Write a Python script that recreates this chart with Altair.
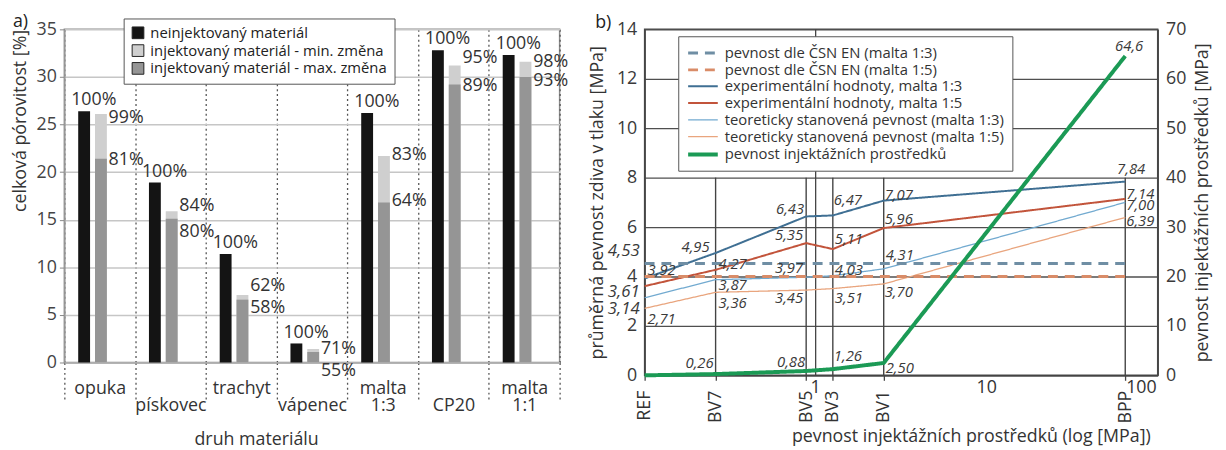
import altair as alt
import pandas as pd

FONT = "Open Sans"

# ---------------- panel a) data ----------------
categories = ["opuka", "pískovec", "trachyt", "vápenec", "malta 1:3", "CP20", "malta 1:1"]
legend_a = ["neinjektovaný materiál",
            "injektovaný materiál - min. změna",
            "injektovaný materiál - max. změna"]
porosity_noninj = [26.4, 18.9, 11.4, 2.0, 26.2, 32.8, 32.3]
porosity_inj_min = [26.1, 15.9, 7.1, 1.42, 21.7, 31.2, 31.6]
porosity_inj_max = [21.4, 15.1, 6.6, 1.1, 16.8, 29.2, 30.0]
label_noninj = ["100%"] * 7
label_inj_min = ["99%", "84%", "62%", "71%", "83%", "95%", "98%"]
label_inj_max = ["81%", "80%", "58%", "55%", "64%", "89%", "93%"]
y_ticks_a = [0, 5, 10, 15, 20, 25, 30, 35]

# ---------------- panel b) data ----------------
materials = ["REF", "BV7", "BV5", "BV3", "BV1", "BPP"]
material_strength_axis = [0.1, 0.26, 0.88, 1.26, 2.5, 64.6]
grout_strength = [0.0, 0.26, 0.88, 1.26, 2.50, 64.6]
exp_13 = [3.92, 4.95, 6.43, 6.47, 7.07, 7.84]
exp_15 = [3.61, 4.27, 5.35, 5.11, 5.96, 7.14]
theo_13 = [3.14, 3.87, 3.97, 4.03, 4.31, 7.00]
theo_15 = [2.71, 3.36, 3.45, 3.51, 3.70, 6.39]
csn_span = [0.1, 64.6]
csn_13 = [4.53, 4.53]
csn_15 = [4.00, 4.00]
series_b = ["pevnost dle ČSN EN (malta 1:3)",
            "pevnost dle ČSN EN (malta 1:5)",
            "experimentální hodnoty, malta 1:3",
            "experimentální hodnoty, malta 1:5",
            "teoreticky stanovená pevnost (malta 1:3)",
            "teoreticky stanovená pevnost (malta 1:5)",
            "pevnost injektážních prostředků"]
decade_ticks = [1, 10, 100]
decade_labels = ["1", "10", "100"]
y_ticks_left = [0, 2, 4, 6, 8, 10, 12, 14]
y_ticks_right = [0, 10, 20, 30, 40, 50, 60, 70]

colors_b = ["#6f8ea4", "#d98c68", "#3f6f93", "#c2543b", "#72aad0", "#e9a57e", "#1b9a55"]
dashes_b = [[10, 7], [10, 7], [1, 0], [1, 0], [1, 0], [1, 0], [1, 0]]
widths_b = [3, 3, 2, 2, 1.3, 1.3, 4]


def cz(v, nd=2):
    return f"{v:.{nd}f}".replace(".", ",")


# ======================= PANEL A =======================
W_A, H_A = 501, 337
xa_scale = alt.Scale(domain=categories, paddingInner=0, paddingOuter=0)
ya_scale = alt.Scale(domain=[0, 35], nice=False)

bars_df = pd.DataFrame({
    "cat": categories * 3,
    "grp": ["n"] * 7 + ["i"] * 14,
    "series": [legend_a[0]] * 7 + [legend_a[1]] * 7 + [legend_a[2]] * 7,
    "val": porosity_noninj + porosity_inj_min + porosity_inj_max,
})

label_expr_a = ("datum.value == null ? '' : (indexof(['pískovec','vápenec','CP20'], datum.value) >= 0 ? "
                "['', datum.value] : split(datum.value, ' '))")

x_axis_a = alt.Axis(
    title="druh materiálu", labelAngle=0, labelExpr=label_expr_a,
    labelBaseline="top", labelLineHeight=18, labelFontSize=18, labelPadding=-23,
    labelColor="#333", labelOverlap=False, labelAlign="center",
    tickBand="extent", tickSize=40, tickDash=[2, 3], tickColor="#555", tickWidth=1.3,
    grid=True, gridDash=[2, 3], gridColor="#555", gridWidth=1.3,
    domainColor="#aaa", domainWidth=1.5,
    titleX=194, titleY=78, titleAlign="center", titleBaseline="middle",
    titleFontSize=18, titleFontWeight="normal", titleColor="#333")

y_axis_a = alt.Axis(
    values=y_ticks_a, grid=True, gridColor="#c6c6c6", gridWidth=1.5,
    domainColor="#999", domainWidth=1.5, tickColor="#888", tickSize=5,
    labelPadding=3, labelFontSize=18, labelColor="#444",
    title="celková pórovitost [%]", titleFontSize=18, titleFontWeight="normal",
    titleColor="#333", titleAnchor="end", titlePadding=7)

bars = alt.Chart(bars_df).mark_bar().encode(
    x=alt.X("cat:N", sort=categories, scale=xa_scale, axis=x_axis_a),
    xOffset=alt.XOffset("grp:N", scale=alt.Scale(domain=["n", "i", "pad"], paddingInner=0.294,
                                                  paddingOuter=0.752, align=0.548)),
    y=alt.Y("val:Q", scale=ya_scale, axis=y_axis_a, stack=None),
    color=alt.Color("series:N", scale=alt.Scale(domain=legend_a,
                                                range=["#141414", "#cfcfcf", "#959595"]),
                    legend=alt.Legend(title=None, orient="none", legendX=60, legendY=-11,
                                      direction="vertical", symbolType="square",
                                      symbolSize=140, symbolStrokeColor="#222",
                                      symbolStrokeWidth=1, labelFontSize=15,
                                      labelColor="#222", fillColor="white",
                                      strokeColor="#555", padding=7, rowPadding=1,
                                      labelOffset=5, labelLimit=400)),
)

# label nudges (pixels) so that the percent labels do not collide
dy_min = [4, -5, -9, 0, -1, -8, 0]
dy_max = [1, 13, 8, 19, -2, 2, 4]


def text_a(cat, v, txt, **kw):
    return alt.Chart(pd.DataFrame({"cat": [cat], "v": [v], "t": [txt]})).mark_text(
        font=FONT, fontSize=18, color="#333", **kw).encode(
        x=alt.X("cat:N", sort=categories, scale=xa_scale, axis=x_axis_a),
        y=alt.Y("v:Q", scale=ya_scale, axis=y_axis_a),
        text="t:N")


labels_a = []
for i, c in enumerate(categories):
    labels_a.append(text_a(c, porosity_noninj[i], label_noninj[i], dx=-6, dy=-2,
                           baseline="bottom", align="center"))
    labels_a.append(text_a(c, porosity_inj_min[i], label_inj_min[i], dx=9, dy=dy_min[i],
                           baseline="middle", align="left"))
    labels_a.append(text_a(c, porosity_inj_max[i], label_inj_max[i], dx=9, dy=dy_max[i],
                           baseline="middle", align="left"))

tag_a = alt.Chart(pd.DataFrame({"t": ["a)"]})).mark_text(
    font=FONT, fontSize=18, align="left", baseline="middle", color="#222").encode(
    x=alt.value(-52), y=alt.value(-7), text="t:N")

panel_a = alt.layer(bars, *labels_a, tag_a).properties(
    width=W_A, height=H_A, view=alt.ViewBackground(stroke="#8a8a8a", strokeWidth=1.5))

# ======================= PANEL B =======================
W_B, H_B = 519, 350
XS = alt.Scale(type="log", domain=[0.1, 100], nice=False)
YL = alt.Scale(domain=[0, 14], nice=False)
YR = alt.Scale(domain=[0, 70], nice=False)

label_expr_b = ("[" + ",".join(f"'{m}'" for m in materials) + "][indexof(["
                + ",".join(str(v) for v in material_strength_axis) + "], datum.value)]")

x_axis_b = alt.Axis(
    values=material_strength_axis, labelExpr=label_expr_b, labelAngle=270,
    labelAlign="right", labelBaseline="middle", labelPadding=10, labelFontSize=18,
    labelColor="#333", labelFlush=False, labelOverlap=False,
    tickSize=5, tickColor="#444", tickWidth=1.3, domainColor="#444", domainWidth=1.5,
    grid=False, title="pevnost injektážních prostředků (log [MPa])",
    titleX=330, titleY=62, titleAlign="center", titleBaseline="middle",
    titleFontSize=18, titleFontWeight="normal", titleColor="#333")

y_axis_left = alt.Axis(
    values=y_ticks_left, grid=True, gridColor="#4f4f4f", gridWidth=1.3,
    domainColor="#444", domainWidth=1.5, ticks=False, labelPadding=8,
    labelFontSize=18, labelColor="#3a3a3a",
    title="průměrná pevnost zdiva v tlaku [MPa]", titleFontSize=18,
    titleFontWeight="normal", titleColor="#333", titlePadding=10)

y_axis_right = alt.Axis(
    values=y_ticks_right, orient="right", grid=False, ticks=False, labelPadding=8,
    labelFontSize=18, labelColor="#3a3a3a", domainColor="#444", domainWidth=1.5,
    title="pevnost injektážních prostředků [MPa]", titleFontSize=18,
    titleFontWeight="normal", titleColor="#333", titleAngle=270, titleBaseline="top",
    titlePadding=8)

leg_b = alt.Legend(title=None, orient="none", legendX=34, legendY=7, direction="vertical",
                   symbolType="M-1,0H3", symbolSize=225, labelFontSize=15, labelColor="#333",
                   fillColor="white", strokeColor="#555", padding=8, rowPadding=0,
                   labelOffset=20, labelLimit=500)
color_b = alt.Color("series:N", scale=alt.Scale(domain=series_b, range=colors_b), legend=leg_b)
dash_b = alt.StrokeDash("series:N", scale=alt.Scale(type="ordinal", domain=series_b, range=dashes_b), legend=leg_b)
width_b = alt.StrokeWidth("series:N", scale=alt.Scale(type="ordinal", domain=series_b, range=widths_b), legend=leg_b)

rows = []
for name, vals in zip(series_b[2:6], [exp_13, exp_15, theo_13, theo_15]):
    for s, v in zip(material_strength_axis, vals):
        rows.append({"series": name, "s": s, "v": v})
for name, vals in zip(series_b[:2], [csn_13, csn_15]):
    for s, v in zip(csn_span, vals):
        rows.append({"series": name, "s": s, "v": v})
lines_df = pd.DataFrame(rows)

XB = alt.X("s:Q", scale=XS, axis=x_axis_b)

lines_b = alt.Chart(lines_df).mark_line().encode(
    x=XB,
    y=alt.Y("v:Q", scale=YL, axis=y_axis_left),
    color=color_b, strokeDash=dash_b, strokeWidth=width_b,
    detail="series:N",
)

mat_df = pd.DataFrame({"m": materials[1:], "s": material_strength_axis[1:]})
mat_rules = alt.Chart(mat_df).mark_rule(color="#444", strokeWidth=1.4).transform_calculate(
    y0="0", y1="8").encode(
    x=XB, y=alt.Y("y0:Q", scale=YL, axis=y_axis_left), y2="y1:Q")

one_rule = alt.Chart(pd.DataFrame({"s": [decade_ticks[0]]})).mark_rule(
    color="#444", strokeWidth=1.3).transform_calculate(y0="0", y1="14").encode(
    x=XB, y=alt.Y("y0:Q", scale=YL, axis=y_axis_left), y2="y1:Q")

dec_layers = []
for s, t, al, dx in zip(decade_ticks, decade_labels, ["center", "center", "right"], [0, 0, -1]):
    dec_layers.append(
        alt.Chart(pd.DataFrame({"s": [s], "t": [t]})).mark_text(
            font=FONT, fontSize=18, color="#333", align=al, baseline="middle", dx=dx).encode(
            x=XB, y=alt.value(H_B + 13), text="t:N"))

# label placements (dx, dy, align, fontsize)
place = {
    "exp13": [(3, -9, "left", 15), (-6, -6, "right", 15), (-2, -7, "right", 15),
              (1, -16, "left", 15), (1, -6, "left", 15), (6, -13, "center", 15)],
    "exp15": [(-5, 6, "right", 17), (3, -6, "left", 15), (-3, -8, "right", 15),
              (2, -10, "left", 15), (1, -9, "left", 15), (1, -5, "left", 15)],
    "theo13": [(-5, 11, "right", 17), (3, 5, "left", 15), (-3, -9, "right", 15),
               (2, -6, "left", 15), (2, -14, "left", 15), (1, 3, "left", 15)],
    "theo15": [(3, 11, "left", 15), (3, 11, "left", 15), (-3, 8, "right", 15),
               (2, 10, "left", 15), (1, 8, "left", 15), (1, 4, "left", 15)],
}
series_vals = {"exp13": exp_13, "exp15": exp_15, "theo13": theo_13, "theo15": theo_15}


def num_label(s, v, txt, dx, dy, al, fs, yscale, yaxis):
    return alt.Chart(pd.DataFrame({"s": [s], "v": [v], "t": [txt]})).mark_text(
        font=FONT, fontSize=fs, fontStyle="italic", color="#3a3a3a", align=al,
        baseline="middle", dx=dx, dy=dy).encode(
        x=XB, y=alt.Y("v:Q", scale=yscale, axis=yaxis), text="t:N")


left_labels = []
for key, vals in series_vals.items():
    for s, v, (dx, dy, al, fs) in zip(material_strength_axis, vals, place[key]):
        left_labels.append(num_label(s, v, cz(v), dx, dy, al, fs, YL, y_axis_left))
left_labels.append(num_label(csn_span[0], csn_13[0], cz(csn_13[0]), -5, -12, "right", 17,
                             YL, y_axis_left))

tag_b = alt.Chart(pd.DataFrame({"t": ["b)"]})).mark_text(
    font=FONT, fontSize=18, align="left", baseline="middle", color="#222").encode(
    x=alt.value(-50), y=alt.value(-6), text="t:N")

left_group = alt.layer(mat_rules, one_rule, lines_b, *left_labels, *dec_layers, tag_b)

green_df = pd.DataFrame({"series": series_b[6], "s": material_strength_axis, "g": grout_strength})
green = alt.Chart(green_df).mark_line().encode(
    x=XB,
    y=alt.Y("g:Q", scale=YR, axis=y_axis_right),
    color=color_b, strokeDash=dash_b, strokeWidth=width_b)

green_place = [None, (-2, -11, "right"), (-1, -9, "right"), (1, -13, "left"),
               (2, 5, "left"), (4, -10, "center")]
green_labels = []
for s, g, p in zip(material_strength_axis, grout_strength, green_place):
    if p is None:
        continue
    nd = 1 if g >= 10 else 2
    green_labels.append(num_label(s, g, cz(g, nd), p[0], p[1], p[2], 15, YR, y_axis_right))

right_group = alt.layer(green, *green_labels)

panel_b = alt.layer(left_group, right_group).resolve_scale(y="independent").properties(
    width=W_B, height=H_B, view=alt.ViewBackground(stroke="#4a4a4a", strokeWidth=1.5))

chart = alt.hconcat(panel_a, panel_b, spacing=86, bounds="flush").resolve_scale(
    color="independent", strokeDash="independent", strokeWidth="independent"
).resolve_legend(
    color="independent", strokeDash="independent", strokeWidth="independent"
).configure(
    font=FONT, padding={"left": 2, "top": 2, "right": 5, "bottom": 5}
).configure_axis(labelFont=FONT, titleFont=FONT).configure_legend(labelFont=FONT)

chart.save("out.html", embed_options={"renderer": "svg", "actions": False})
